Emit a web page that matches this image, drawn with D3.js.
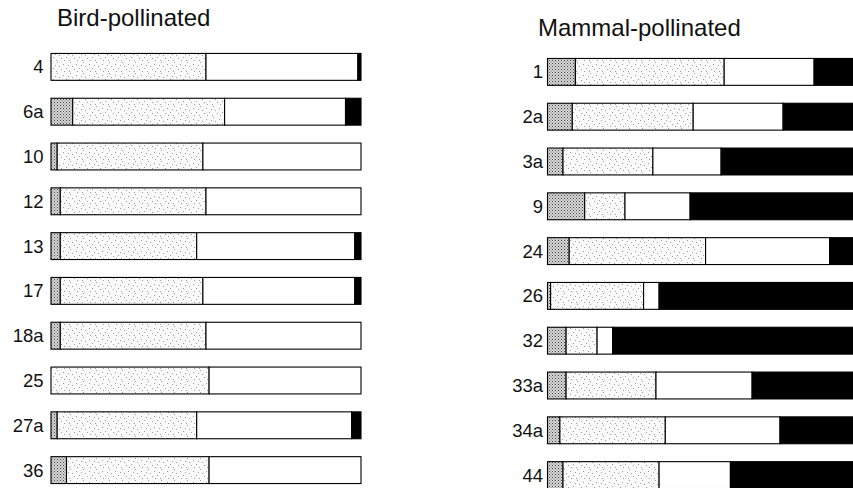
<!DOCTYPE html>
<html>
<head>
<meta charset="utf-8">
<script src="https://cdn.jsdelivr.net/npm/d3@7"></script>
<style>
  body { margin: 0; background: #fff; }
  svg { display: block; font-family: "Liberation Sans", Arial, sans-serif; }
</style>
</head>
<body>
<div id="chart"></div>
<script>
(function() {
  'use strict';

  // segment order: dense stipple, light stipple, white, black (percent)
  var birdSites = ["4", "6a", "10", "12", "13", "17", "18a", "25", "27a", "36"];
  var birdDense = [0, 7, 2, 3, 3, 3, 3, 0, 2, 5];
  var birdLight = [50, 49, 47, 47, 44, 46, 47, 51, 45, 46];
  var birdWhite = [49, 39, 51, 50, 51, 49, 50, 49, 50, 49];
  var birdBlack = [1, 5, 0, 0, 2, 2, 0, 0, 3, 0];

  var mammalSites = ["1", "2a", "3a", "9", "24", "26", "32", "33a", "34a", "44"];
  var mammalDense = [9, 8, 5, 12, 7, 1, 6, 6, 4, 5];
  var mammalLight = [48, 39, 29, 13, 44, 30, 10, 29, 34, 31];
  var mammalWhite = [29, 29, 22, 21, 40, 5, 5, 31, 37, 23];
  var mammalBlack = [14, 24, 44, 54, 9, 64, 79, 34, 25, 41];

  var keys = ["dense", "light", "white", "black"];

  var width = 853, height = 488;
  var svg = d3.select("#chart").append("svg")
    .attr("width", width)
    .attr("height", height);

  var defs = svg.append("defs");

  // dense stipple: fine checker of dots
  var pd = defs.append("pattern")
    .attr("id", "dense")
    .attr("patternUnits", "userSpaceOnUse")
    .attr("width", 3).attr("height", 3);
  pd.append("rect").attr("width", 3).attr("height", 3).attr("fill", "#d8d8d8");
  pd.append("rect").attr("x", 0).attr("y", 0).attr("width", 1).attr("height", 1).attr("fill", "#444");
  pd.append("rect").attr("x", 1.5).attr("y", 1.5).attr("width", 1).attr("height", 1).attr("fill", "#666");

  // light stipple: sparse dots
  var pl = defs.append("pattern")
    .attr("id", "light")
    .attr("patternUnits", "userSpaceOnUse")
    .attr("width", 13).attr("height", 11);
  pl.append("rect").attr("width", 13).attr("height", 11).attr("fill", "#fafafa");
  var dots = [[1, 2], [5, 7], [9, 3], [11, 9], [3, 10], [7, 0], [12, 5], [4, 5]];
  dots.forEach(function(p) {
    pl.append("rect").attr("x", p[0]).attr("y", p[1])
      .attr("width", 1).attr("height", 1).attr("fill", "#9a9a9a");
  });

  var fills = {
    dense: "url(#dense)",
    light: "url(#light)",
    white: "#fff",
    black: "#000"
  };

  function rows(sites, dense, light, white, black) {
    return sites.map(function(s, i) {
      return {site: s, dense: dense[i], light: light[i], white: white[i], black: black[i]};
    });
  }

  function panel(title, data, x0, yRange, titleX, titleY, labelX) {
    var x = d3.scaleLinear().domain([0, 100]).range([x0, x0 + 310]);
    var y = d3.scaleBand()
      .domain(data.map(function(d) { return d.site; }))
      .range(yRange)
      .paddingInner(0.4)
      .paddingOuter(0.2);

    var series = d3.stack().keys(keys)(data);

    var g = svg.append("g");

    g.append("text")
      .attr("x", titleX)
      .attr("y", titleY)
      .attr("font-size", 24)
      .attr("fill", "#111")
      .text(title);

    g.selectAll("g.layer")
      .data(series)
      .enter().append("g")
      .attr("class", "layer")
      .attr("fill", function(s) { return fills[s.key]; })
      .selectAll("rect")
      .data(function(s) { return s.filter(function(d) { return d[1] > d[0]; }); })
      .enter().append("rect")
      .attr("x", function(d) { return x(d[0]); })
      .attr("y", function(d) { return y(d.data.site); })
      .attr("width", function(d) { return x(d[1]) - x(d[0]); })
      .attr("height", y.bandwidth())
      .attr("stroke", "#000")
      .attr("stroke-width", 1.1);

    g.selectAll("text.site")
      .data(data)
      .enter().append("text")
      .attr("class", "site")
      .attr("x", labelX)
      .attr("y", function(d) { return y(d.site) + y.bandwidth() / 2; })
      .attr("dy", "0.35em")
      .attr("text-anchor", "end")
      .attr("font-size", 18.5)
      .attr("fill", "#111")
      .text(function(d) { return d.site; });
  }

  panel("Bird-pollinated",
        rows(birdSites, birdDense, birdLight, birdWhite, birdBlack),
        51, [44.5, 492.5], 57, 26, 43.5);

  panel("Mammal-pollinated",
        rows(mammalSites, mammalDense, mammalLight, mammalWhite, mammalBlack),
        547.5, [49.5, 497.5], 538, 36, 543);
}());
</script>
</body>
</html>
